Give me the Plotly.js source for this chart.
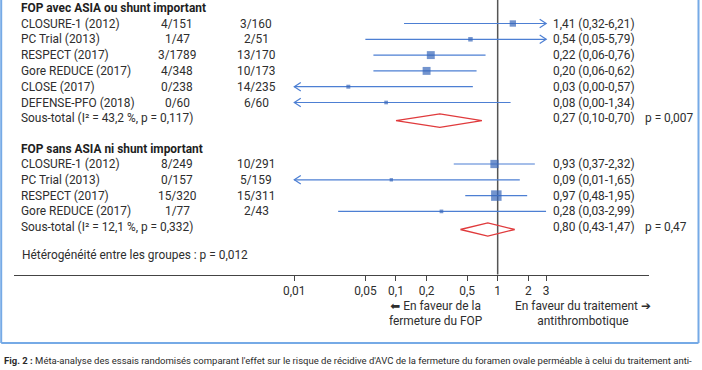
<!DOCTYPE html>
<html>
<head>
<meta charset="utf-8">
<script src="https://cdn.plot.ly/plotly-3.0.1.min.js"></script>
<style>
  html, body { margin: 0; padding: 0; background: #fff; }
  #chart { width: 702px; height: 370px; }
</style>
</head>
<body>
<div id="chart"></div>
<script>
// ---------------- DATA ----------------
const groupTitles = ["FOP avec ASIA ou shunt important", "FOP sans ASIA ni shunt important"];

const studies1 = ["CLOSURE-1 (2012)", "PC Trial (2013)", "RESPECT (2017)", "Gore REDUCE (2017)", "CLOSE (2017)", "DEFENSE-PFO (2018)"];
const closure1 = ["4/151", "1/47", "3/1789", "4/348", "0/238", "0/60"];
const medical1 = ["3/160", "2/51", "13/170", "10/173", "14/235", "6/60"];
const est1 = [1.41, 0.54, 0.22, 0.20, 0.034, 0.08];
const lo1 = [0.12, 0.05, 0.06, 0.06, 0, 0];       // lower limits as drawn
const hi1 = [6.21, 5.79, 0.76, 0.62, 0.57, 1.34];
const weight1 = [18, 9, 28, 28, 7, 6];
const ciText1 = ["1,41 (0,32-6,21)", "0,54 (0,05-5,79)", "0,22 (0,06-0,76)", "0,20 (0,06-0,62)", "0,03 (0,00-0,57)", "0,08 (0,00-1,34)"];

const studies2 = ["CLOSURE-1 (2012)", "PC Trial (2013)", "RESPECT (2017)", "Gore REDUCE (2017)"];
const closure2 = ["8/249", "0/157", "15/320", "1/77"];
const medical2 = ["10/291", "5/159", "15/311", "2/43"];
const est2 = [0.93, 0.09, 0.97, 0.28];
const lo2 = [0.37, 0.01, 0.48, 0.027];
const hi2 = [2.32, 1.65, 1.95, 2.99];
const weight2 = [30, 5, 49, 6];
const ciText2 = ["0,93 (0,37-2,32)", "0,09 (0,01-1,65)", "0,97 (0,48-1,95)", "0,28 (0,03-2,99)"];

const subLabel = ["Sous-total (I² = 43,2 %, p = 0,117)", "Sous-total (I² = 12,1 %, p = 0,332)"];
const subEst = [0.27, 0.80];
const subLo = [0.10, 0.43];
const subHi = [0.70, 1.47];
const subText = ["0,27 (0,10-0,70)", "0,80 (0,43-1,47)"];
const subP = ["p = 0,007", "p = 0,47"];

const heterogeneity = "Hétérogénéité entre les groupes : p = 0,012";

const tickVals = [0.01, 0.05, 0.1, 0.2, 0.5, 1, 2, 3];
const tickText = ["0,01", "0,05", "0,1", "0,2", "0,5", "1", "2", "3"];

const favourLeft = "<span style='font-family:DejaVu Sans'>⬅</span> En faveur de la<br>fermeture du FOP";
const favourRight = "En faveur du traitement <span style='font-family:DejaVu Sans'>➔</span><br>antithrombotique";

const caption1 = "<b>Fig. 2 :</b> Méta-analyse des essais randomisés comparant l'effet sur le risque de récidive d'AVC de la fermeture du foramen ovale perméable à celui du traitement anti-";
const caption2 = "thrombotique chez les patients ayant un FOP à haut risque (FOP + ASIA ou FOP avec shunt important) [3].";

// ---------------- LAYOUT CONSTANTS ----------------
const W = 702, H = 370;
const FONT = "Roboto, 'Noto Sans', Arial, sans-serif";
const FS = 11.9;
const TXT = "#2e2e2e";
const LINE_BLUE = "#4d7fd3";
const SQ_BLUE = "#3767b9";
const RED = "#e03a3c";
const AX_X0 = 14, AX_X1 = 649;          // pixel extent of the axis line
const AXIS_Y = 274.5;                    // pixel y of axis line
const LOGMIN = -4.756, LOGMAX = 1.488;   // axis range (log10)
const pxPerDecade = (AX_X1 - AX_X0) / (LOGMAX - LOGMIN);
const CLIP_MIN = tickVals[0], CLIP_MAX = tickVals[tickVals.length - 1];
const ROW = 15.8;
const groupTop = [8, 148.5];

const xCol = { name: 19, treat: 177, ctrl: 256, ci: 551, p: 643 };

const traces = [];
const annotations = [];

function txt(xpx, y, text, anchor, opts) {
  opts = opts || {};
  annotations.push({
    xref: "paper", yref: "y", x: xpx / W, y: y, text: text,
    xanchor: anchor, yanchor: "middle", showarrow: false,
    align: opts.align || anchor,
    font: { family: FONT, size: opts.size || FS, color: opts.color || TXT }
  });
}

function chevron(tip, y, dir) {
  // dir = -1 left arrow, +1 right arrow
  const k = Math.pow(10, 6.5 / pxPerDecade);
  const back = dir > 0 ? tip / k : tip * k;
  traces.push({
    type: "scatter", mode: "lines",
    x: [back, tip, back], y: [y - 4.3, y, y + 4.3],
    line: { color: LINE_BLUE, width: 1.2 }, hoverinfo: "skip"
  });
}

function drawGroup(g, names, tr, ct, est, lo, hi, wt, ciT) {
  const top = groupTop[g];
  txt(xCol.name, top, "<b>" + groupTitles[g] + "</b>", "left", { color: "#1e1e1e" });
  const sqX = [], sqY = [], sqS = [];
  names.forEach((n, i) => {
    const y = top + 15.5 + i * ROW;
    txt(xCol.name, y, n, "left");
    txt(xCol.treat, y, tr[i], "center");
    txt(xCol.ctrl, y, ct[i], "center");
    txt(xCol.ci, y, ciT[i], "left");
    const l = Math.max(lo[i], CLIP_MIN), h = Math.min(hi[i], CLIP_MAX);
    traces.push({
      type: "scatter", mode: "lines", x: [l, h], y: [y, y],
      line: { color: LINE_BLUE, width: 1.2 }, hoverinfo: "skip"
    });
    if (lo[i] <= CLIP_MIN) chevron(CLIP_MIN, y, -1);
    if (hi[i] > CLIP_MAX) chevron(CLIP_MAX, y, 1);
    sqX.push(est[i]); sqY.push(y); sqS.push(1.5 * Math.sqrt(wt[i]));
  });
  traces.push({
    type: "scatter", mode: "markers", x: sqX, y: sqY,
    marker: { symbol: "square", size: sqS, color: SQ_BLUE, line: { width: 0 } },
    hoverinfo: "skip"
  });
  const ys = top + 15.5 + names.length * ROW;
  txt(xCol.name, ys, subLabel[g], "left");
  txt(xCol.ci, ys, subText[g], "left");
  txt(xCol.p, ys, subP[g], "left");
  const yd = ys + 2.3, hd = 6.7;
  traces.push({
    type: "scatter", mode: "lines",
    x: [subLo[g], subEst[g], subHi[g], subEst[g], subLo[g]],
    y: [yd, yd - hd, yd, yd + hd, yd],
    line: { color: RED, width: 1.3 }, hoverinfo: "skip"
  });
}

drawGroup(0, studies1, closure1, medical1, est1, lo1, hi1, weight1, ciText1);
drawGroup(1, studies2, closure2, medical2, est2, lo2, hi2, weight2, ciText2);

txt(xCol.name + 1, 255, heterogeneity, "left");
txt(436, 313.5, favourLeft, "center", { align: "center" });
txt(583, 313.5, favourRight, "center", { align: "center" });
txt(2, 360.5, caption1, "left", { size: 9.5, color: "#2a2a2a" });
txt(2, 373.5, caption2, "left", { size: 9.5, color: "#2a2a2a" });

const frameColor = "#76aae6";
const shapes = [
  { type: "line", xref: "x", yref: "y", x0: 1, x1: 1, y0: 0, y1: AXIS_Y,
    line: { color: "#555555", width: 1.5 }, layer: "below" },
  { type: "line", xref: "paper", yref: "paper", x0: 1.2 / W, x1: 1.2 / W, y0: 1, y1: 1 - 343 / H,
    line: { color: frameColor, width: 2 } },
  { type: "line", xref: "paper", yref: "paper", x0: 1.2 / W, x1: 698.5 / W, y0: 1 - 343 / H, y1: 1 - 343 / H,
    line: { color: frameColor, width: 2 } },
  { type: "line", xref: "paper", yref: "paper", x0: 698.5 / W, x1: 698.5 / W, y0: 1, y1: 1 - 343 / H,
    line: { color: frameColor, width: 2 } }
];

const layout = {
  width: W, height: H,
  margin: { l: 0, r: 0, t: 0, b: 0, pad: 0 },
  paper_bgcolor: "#ffffff", plot_bgcolor: "rgba(0,0,0,0)",
  showlegend: false,
  xaxis: {
    type: "log", range: [LOGMIN, LOGMAX],
    domain: [AX_X0 / W, AX_X1 / W],
    anchor: "free", position: 1 - AXIS_Y / H,
    showline: true, linecolor: "#444444", linewidth: 1.3,
    ticks: "outside", ticklen: 5, tickwidth: 1, tickcolor: "#444444",
    tickmode: "array", tickvals: tickVals, ticktext: tickText,
    tickfont: { family: FONT, size: FS, color: TXT },
    showgrid: false, zeroline: false, fixedrange: true
  },
  yaxis: {
    range: [H, 0], domain: [0, 1], visible: false,
    showgrid: false, zeroline: false, fixedrange: true
  },
  shapes: shapes,
  annotations: annotations
};

Plotly.newPlot("chart", traces, layout, { displayModeBar: false, staticPlot: true });
</script>
</body>
</html>
